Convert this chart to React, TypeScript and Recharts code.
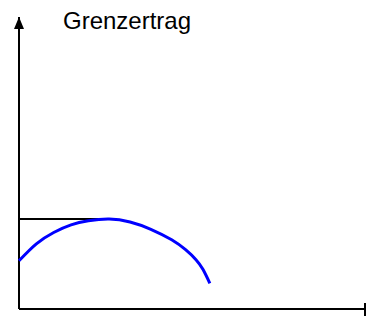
import { LineChart, Line, XAxis, YAxis, ReferenceLine, ReferenceDot } from "recharts";

const TITLE = "Grenzertrag";

// Menge (x) und Grenzertrag (y)
const menge = [0, 5, 10, 15, 20, 26, 32, 38, 44, 48, 51, 53, 55];
const grenzertrag = [16.5, 22.3, 26.2, 28.8, 30.2, 30.8, 29.8, 27.3, 23.7, 20.3, 16.9, 13.6, 8.8];

const X_MAX = 100;
const Y_MAX = 100;

const data = menge.map((x, i) => ({ x, y: grenzertrag[i] }));
const peak = data.reduce((a, b) => (b.y > a.y ? b : a));

const Arrow = (props: any) => {
  const { cx, cy } = props;
  return <polygon points={`${cx},${cy} ${cx - 5},${cy + 12} ${cx + 5},${cy + 12}`} fill="#000" />;
};

const EndTick = (props: any) => {
  const { cx, cy } = props;
  return <line x1={cx - 1} y1={cy - 6} x2={cx - 1} y2={cy + 7} stroke="#000" strokeWidth={2} />;
};

export default function App() {
  return (
    <div style={{ position: "absolute", left: 0, top: 0, width: 367, height: 323 }}>
      <LineChart width={367} height={323} data={data} margin={{ top: 17, right: 1, bottom: 14, left: 19 }}>
        <XAxis type="number" dataKey="x" domain={[0, X_MAX]} hide />
        <YAxis type="number" domain={[0, Y_MAX]} hide />
        <ReferenceLine y={0} stroke="#000" strokeWidth={2} />
        <ReferenceLine x={0} stroke="#000" strokeWidth={2} />
        <ReferenceLine
          segment={[{ x: 0, y: peak.y }, { x: peak.x, y: peak.y }]}
          stroke="#000"
          strokeWidth={2}
        />
        <ReferenceDot x={0} y={Y_MAX} ifOverflow="visible" shape={Arrow} />
        <ReferenceDot x={X_MAX} y={0} ifOverflow="visible" shape={EndTick} />
        <Line
          type="natural"
          dataKey="y"
          stroke="#0000ff"
          strokeWidth={3}
          dot={false}
          isAnimationActive={false}
        />
      </LineChart>
      <div
        style={{
          position: "absolute",
          left: 63,
          top: 9,
          fontFamily: "'Liberation Sans', Arial, sans-serif",
          fontSize: 24,
          lineHeight: "24px",
          color: "#000",
        }}
      >
        {TITLE}
      </div>
    </div>
  );
}
